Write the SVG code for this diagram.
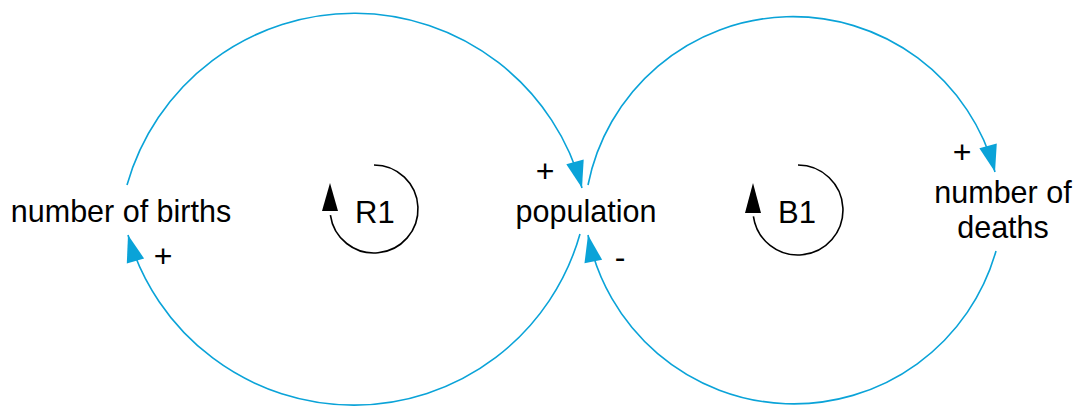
<svg xmlns="http://www.w3.org/2000/svg" width="1076" height="406" viewBox="0 0 1076 406">
<style>
.lbl{font-family:"Liberation Sans",Arial,sans-serif;font-size:30.5px;fill:#000;text-anchor:middle}
.loop{font-family:"Liberation Sans",Arial,sans-serif;font-size:31px;fill:#000}
.pol{font-family:"Liberation Sans",Arial,sans-serif;font-size:32px;fill:#000;text-anchor:middle}
.link{fill:none;stroke:#0aa3d8;stroke-width:1.6;marker-end:url(#ah)}
.lp{fill:none;stroke:#000;stroke-width:1.6}
</style>
<defs>
<marker id="ah" markerUnits="userSpaceOnUse" markerWidth="30" markerHeight="22" viewBox="-28 -10 30 20" refX="0" refY="0" orient="auto">
<path d="M0,0 L-27,-9 L-27,9 Z" fill="#0aa3d8"/>
</marker>
</defs>
<g id="connectors">
<path class="link" d="M127,185 A236,236 0 0,1 582,188"/>
<path class="link" d="M580,234 A235,235 0 0,1 128,235"/>
<path class="link" d="M588,185 A209,209 0 0,1 995,172"/>
<path class="link" d="M996,251 A210,210 0 0,1 588,235"/>
</g>
<g id="polarities">
<text class="pol" x="545" y="182">+</text>
<text class="pol" x="163" y="267">+</text>
<text class="pol" x="962" y="163">+</text>
<text class="pol" x="620" y="268">-</text>
</g>
<g id="births"><text class="lbl" x="121" y="222">number of births</text></g>
<g id="population"><text class="lbl" x="586" y="222">population</text></g>
<g id="deaths"><text class="lbl" x="1003" y="203">number of</text><text class="lbl" x="1003" y="238">deaths</text></g>
<g id="loopR1">
<path class="lp" d="M374,165 A44,44 0 1,1 330.4,215.1"/>
<path d="M330,183 L322,211 L338,211 Z" fill="#000"/>
<text class="loop" x="355" y="223">R1</text>
</g>
<g id="loopB1">
<path class="lp" d="M798,165 A45,45 0 1,1 753.4,216.3"/>
<path d="M753,183 L745,213 L761,213 Z" fill="#000"/>
<text class="loop" x="778" y="223">B1</text>
</g>
</svg>
